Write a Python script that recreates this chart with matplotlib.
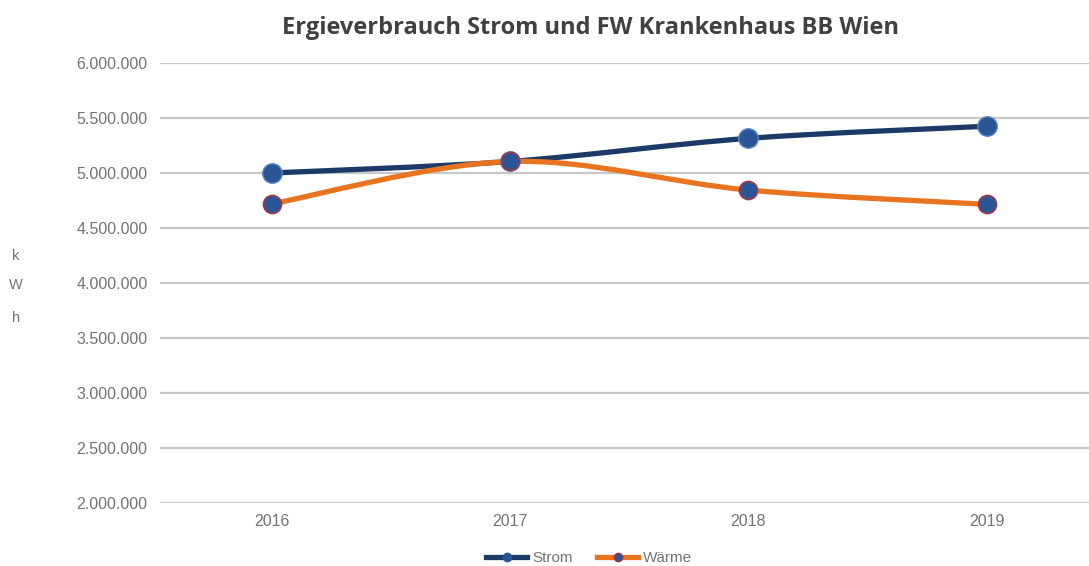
import matplotlib
matplotlib.use("Agg")
import matplotlib.pyplot as plt
from matplotlib.path import Path as MPath
from matplotlib.patches import PathPatch
from matplotlib.lines import Line2D
from matplotlib.ticker import FuncFormatter

years = ["2016", "2017", "2018", "2019"]
strom = [5000000, 5105000, 5315000, 5425000]
waerme = [4720000, 5105000, 4845000, 4715000]
yticks = [2000000, 2500000, 3000000, 3500000, 4000000, 4500000, 5000000, 5500000, 6000000]

NAVY = "#1b3a66"
ORANGE = "#e8741f"
MARK = "#2a5597"
GRID = "#c8c8c8"
TXT = "#737373"

plt.rcParams["font.family"] = ["Liberation Sans", "DejaVu Sans"]


def smooth_path(xs, ys, t=0.5):
    # Catmull-Rom style bezier control points (Excel "smoothed line")
    n = len(xs)
    verts = [(xs[0], ys[0])]
    codes = [MPath.MOVETO]
    for i in range(n - 1):
        x0, y0 = (xs[i - 1], ys[i - 1]) if i > 0 else (xs[i], ys[i])
        x1, y1 = xs[i], ys[i]
        x2, y2 = xs[i + 1], ys[i + 1]
        x3, y3 = (xs[i + 2], ys[i + 2]) if i + 2 < n else (x2, y2)
        c1 = (x1 + (x2 - x0) * t / 3, y1 + (y2 - y0) * t / 3)
        c2 = (x2 - (x3 - x1) * t / 3, y2 - (y3 - y1) * t / 3)
        verts += [c1, c2, (x2, y2)]
        codes += [MPath.CURVE4] * 3
    return MPath(verts, codes)


fig = plt.figure(figsize=(10.89, 5.66), dpi=100)
ax = fig.add_axes([160 / 1089, 1 - 503 / 566, 929 / 1089, 440 / 566])

x = list(range(len(years)))
for vals, col in [(strom, NAVY), (waerme, ORANGE)]:
    ax.add_patch(PathPatch(smooth_path(x, vals), facecolor="none", edgecolor=col,
                           lw=3.8, capstyle="round", joinstyle="round", zorder=3))
ax.plot(x, strom, ls="none", marker="o", ms=14, mfc=MARK, mec="#5a86c4", mew=1, zorder=4)
ax.plot(x, waerme, ls="none", marker="o", ms=13, mfc=MARK, mec="#a0384a", mew=1.2, zorder=4)

ax.set_xlim(-0.47, 3.43)
ax.set_ylim(2000000, 6000000)
ax.set_yticks(yticks)
ax.yaxis.set_major_formatter(FuncFormatter(lambda v, p: f"{int(v):,}".replace(",", ".")))
ax.set_xticks(x)
ax.set_xticklabels(years)
ax.grid(axis="y", color=GRID, lw=1.6)
ax.set_axisbelow(True)
for s in ax.spines.values():
    s.set_visible(False)
ax.tick_params(axis="both", length=0, labelsize=11.5, labelcolor=TXT)
ax.tick_params(axis="y", pad=9)
ax.tick_params(axis="x", pad=8)

fig.text(590 / 1089, 1 - 28 / 566, "Ergieverbrauch Strom und FW Krankenhaus BB Wien",
         ha="center", va="center", fontsize=17, fontweight="bold", color="#404040",
         family=["Open Sans", "DejaVu Sans"])
for ch, yy in [("k", 256), ("W", 285), ("h", 318)]:
    fig.text(16 / 1089, 1 - yy / 566, ch, ha="center", va="center", fontsize=10.5, color=TXT)

handles = [
    Line2D([], [], color=NAVY, lw=3.8, marker="o", ms=6, mfc=MARK, mec=MARK),
    Line2D([], [], color=ORANGE, lw=3.8, marker="o", ms=6, mfc=MARK, mec="#a0384a"),
]
fig.legend(handles, ["Strom", "Wärme"], loc="center", bbox_to_anchor=(589 / 1089, 1 - 558 / 566),
           ncol=2, frameon=False, fontsize=11, labelcolor=TXT, handlelength=2.7,
           handletextpad=0.3, columnspacing=1.6)

fig.savefig("out.png", dpi=100)
